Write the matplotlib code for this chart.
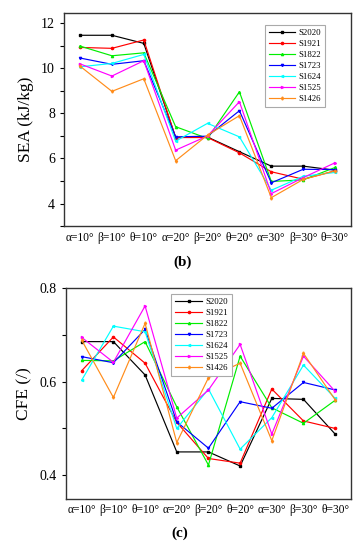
import matplotlib
matplotlib.use('Agg')
import matplotlib.pyplot as plt
from matplotlib.ticker import MultipleLocator

plt.rcParams['font.family'] = ['Liberation Serif', 'DejaVu Serif']

configs = ['α=10°', 'β=10°', 'θ=10°', 'α=20°', 'β=20°', 'θ=20°', 'α=30°', 'β=30°', 'θ=30°']
series = ['S2020', 'S1921', 'S1822', 'S1723', 'S1624', 'S1525', 'S1426']
colors = ['#000000', '#ff0000', '#00ee00', '#0000ff', '#00ffff', '#ff00ff', '#ff8c1a']
markers = ['s', 'o', '^', 'v', '<', '>', 'd']

# SEA (kJ/kg)
sea_s2020 = [11.47, 11.47, 11.11, 6.93, 6.95, 6.30, 5.66, 5.66, 5.48]
sea_s1921 = [10.93, 10.89, 11.26, 6.93, 6.93, 6.25, 5.41, 5.08, 5.45]
sea_s1822 = [10.99, 10.56, 10.69, 7.41, 6.89, 8.96, 4.98, 5.05, 5.60]
sea_s1723 = [10.46, 10.18, 10.34, 6.96, 6.99, 8.12, 4.92, 5.52, 5.51]
sea_s1624 = [10.07, 10.22, 10.62, 6.77, 7.56, 6.96, 4.59, 5.21, 5.38]
sea_s1525 = [10.20, 9.66, 10.34, 6.37, 7.00, 8.52, 4.44, 5.15, 5.81]
sea_s1426 = [10.10, 8.98, 9.54, 5.90, 7.04, 7.90, 4.26, 5.07, 5.45]

# CFE (/)
cfe_s2020 = [0.685, 0.685, 0.614, 0.450, 0.450, 0.420, 0.564, 0.562, 0.488]
cfe_s1921 = [0.623, 0.695, 0.639, 0.513, 0.436, 0.426, 0.584, 0.516, 0.500]
cfe_s1822 = [0.645, 0.644, 0.685, 0.546, 0.422, 0.654, 0.544, 0.511, 0.560]
cfe_s1723 = [0.653, 0.640, 0.711, 0.514, 0.458, 0.557, 0.543, 0.598, 0.582]
cfe_s1624 = [0.603, 0.718, 0.706, 0.500, 0.584, 0.456, 0.523, 0.635, 0.564]
cfe_s1525 = [0.694, 0.641, 0.761, 0.522, 0.582, 0.679, 0.488, 0.654, 0.579]
cfe_s1426 = [0.688, 0.566, 0.724, 0.470, 0.608, 0.639, 0.474, 0.660, 0.561]

sea = [sea_s2020, sea_s1921, sea_s1822, sea_s1723, sea_s1624, sea_s1525, sea_s1426]
cfe = [cfe_s2020, cfe_s1921, cfe_s1822, cfe_s1723, cfe_s1624, cfe_s1525, cfe_s1426]


def draw_panel(ax, data, ylabel, ylim, major, minor, leg_loc, anchor):
    x = range(len(configs))
    for vals, name, c, m in zip(data, series, colors, markers):
        ax.plot(x, vals, color=c, lw=0.85, marker=m, ms=1.6, label=name)
    ax.set_xlim(-0.5, 8.5)
    ax.set_ylim(*ylim)
    ax.set_xticks(list(x))
    ax.set_xticklabels(configs, fontsize=8.3)
    ax.yaxis.set_major_locator(MultipleLocator(major))
    ax.yaxis.set_minor_locator(MultipleLocator(minor))
    ax.tick_params(axis='x', length=0, pad=4)
    ax.tick_params(axis='y', which='major', length=3, labelsize=10, width=0.8)
    ax.tick_params(axis='y', which='minor', length=3, width=0.8)
    ax.set_ylabel(ylabel, fontsize=12.5, labelpad=5)
    for sp in ax.spines.values():
        sp.set_linewidth(1.0)
        sp.set_color('#333333')
    leg = ax.legend(loc=leg_loc, bbox_to_anchor=anchor, fontsize=6.3, handlelength=3.0,
                    handletextpad=0.4, labelspacing=0.32, borderpad=0.45,
                    fancybox=False, edgecolor='#aaaaaa', framealpha=1)
    leg.get_frame().set_linewidth(0.8)
    return leg


fig = plt.figure(figsize=(3.6, 5.5), dpi=100)

ax1 = fig.add_axes([0.178, 0.589, 0.797, 0.387])
draw_panel(ax1, sea, 'SEA (kJ/kg)', (3.0, 12.45), 2, 1, 'upper right', (0.925, 0.965))
fig.text(0.508, 0.523, '(b)', ha='center', va='center', fontsize=11, fontweight='bold')

ax2 = fig.add_axes([0.183, 0.093, 0.792, 0.384])
draw_panel(ax2, cfe, 'CFE (/)', (0.35, 0.8), 0.2, 0.1, 'upper left', (0.355, 0.99))
fig.text(0.5, 0.031, '(c)', ha='center', va='center', fontsize=11, fontweight='bold')

fig.savefig('out.png', dpi=100)
